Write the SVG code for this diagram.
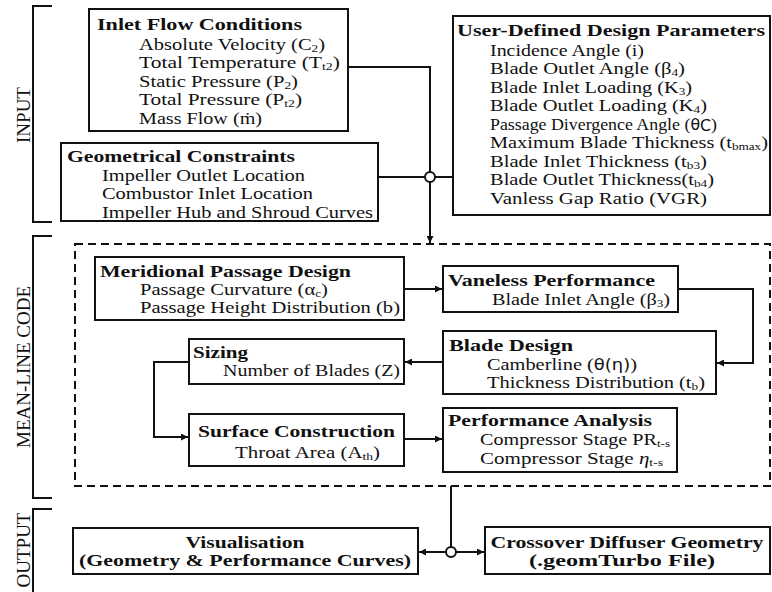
<svg xmlns="http://www.w3.org/2000/svg" width="772" height="592" viewBox="0 0 772 592">
<style>
text{font-family:"Liberation Serif","Times New Roman",serif;font-size:17px;fill:#111}
.t{font-weight:bold;font-size:17px}
.b{fill:#fff;stroke:#111;stroke-width:2}
.c{fill:none;stroke:#111;stroke-width:2}
.s{font-size:11px}
.sans{font-family:"DejaVu Sans",sans-serif;font-size:15px}
.mid{text-anchor:middle}
.lab{font-size:19px}
</style>
<defs>
<marker id="ah" viewBox="0 0 10 10" refX="10" refY="5" markerWidth="9" markerHeight="7" markerUnits="userSpaceOnUse" orient="auto">
<path d="M0,0 L10,5 L0,10 z" fill="#111"/>
</marker>
</defs>
<rect width="772" height="592" fill="#fff"/>

<g id="brackets">
<path class="c" d="M52,6 H33 V222 H52"/>
<path class="c" d="M52,236 H33 V498 H52"/>
<path class="c" d="M52,509 H33 V592"/>
</g>
<g id="section-labels">
<text class="lab mid" transform="translate(30,115) rotate(-90)">INPUT</text>
<text class="lab mid" transform="translate(30,367) rotate(-90)">MEAN-LINE CODE</text>
<text class="lab mid" transform="translate(30,550) rotate(-90)">OUTPUT</text>
</g>

<rect id="meanline-frame" x="75" y="244" width="695" height="242" fill="none" stroke="#111" stroke-width="2" stroke-dasharray="8,5"/>

<g id="connectors">
<path class="c" d="M348,67 H430 V172"/>
<path class="c" d="M378,177 H425"/>
<path class="c" d="M453,177 H435"/>
<path class="c" d="M430,182 V243" marker-end="url(#ah)"/>
<circle cx="430" cy="177" r="5" class="b"/>
<path class="c" d="M404,289 H442" marker-end="url(#ah)"/>
<path class="c" d="M678,289 H753 V363 H717" marker-end="url(#ah)"/>
<path class="c" d="M443,362 H405" marker-end="url(#ah)"/>
<path class="c" d="M189,362 H154 V437 H188" marker-end="url(#ah)"/>
<path class="c" d="M404,439 H442" marker-end="url(#ah)"/>
<path class="c" d="M451,486 V547"/>
<path class="c" d="M446,552 H419" marker-end="url(#ah)"/>
<path class="c" d="M456,552 H484" marker-end="url(#ah)"/>
<circle cx="451" cy="552" r="5" class="b"/>
</g>

<g id="inlet-flow">
<rect class="b" x="89" y="9" width="259" height="122"/>
<text class="t" x="97" y="29.5" textLength="205" lengthAdjust="spacingAndGlyphs">Inlet Flow Conditions</text>
<text x="139" y="49.5" textLength="186" lengthAdjust="spacingAndGlyphs">Absolute Velocity (C<tspan class="s" dy="2">2</tspan><tspan dy="-2">)</tspan></text>
<text x="139" y="68" textLength="201" lengthAdjust="spacingAndGlyphs">Total Temperature (T<tspan class="s" dy="2">t2</tspan><tspan dy="-2">)</tspan></text>
<text x="139" y="86.5" textLength="159" lengthAdjust="spacingAndGlyphs">Static Pressure (P<tspan class="s" dy="2">2</tspan><tspan dy="-2">)</tspan></text>
<text x="139" y="105" textLength="163" lengthAdjust="spacingAndGlyphs">Total Pressure (P<tspan class="s" dy="2">t2</tspan><tspan dy="-2">)</tspan></text>
<text x="139" y="123.5" textLength="123" lengthAdjust="spacingAndGlyphs">Mass Flow (ṁ)</text>
</g>

<g id="geometrical-constraints">
<rect class="b" x="61" y="143" width="317" height="78"/>
<text class="t" x="67" y="162" textLength="228" lengthAdjust="spacingAndGlyphs">Geometrical Constraints</text>
<text x="102" y="180.5" textLength="203" lengthAdjust="spacingAndGlyphs">Impeller Outlet Location</text>
<text x="102" y="199" textLength="211" lengthAdjust="spacingAndGlyphs">Combustor Inlet Location</text>
<text x="102" y="217.5" textLength="271" lengthAdjust="spacingAndGlyphs">Impeller Hub and Shroud Curves</text>
</g>

<g id="user-defined">
<rect class="b" x="453" y="16" width="317" height="199"/>
<text class="t" x="457" y="36" textLength="308" lengthAdjust="spacingAndGlyphs">User-Defined Design Parameters</text>
<text x="490" y="55.5" textLength="154" lengthAdjust="spacingAndGlyphs">Incidence Angle (i)</text>
<text x="490" y="74" textLength="195" lengthAdjust="spacingAndGlyphs">Blade Outlet Angle (β<tspan class="s" dy="2">4</tspan><tspan dy="-2">)</tspan></text>
<text x="490" y="92.5" textLength="202" lengthAdjust="spacingAndGlyphs">Blade Inlet Loading (K<tspan class="s" dy="2">3</tspan><tspan dy="-2">)</tspan></text>
<text x="490" y="111" textLength="217" lengthAdjust="spacingAndGlyphs">Blade Outlet Loading (K<tspan class="s" dy="2">4</tspan><tspan dy="-2">)</tspan></text>
<text x="490" y="129.5" textLength="227" lengthAdjust="spacingAndGlyphs">Passage Divergence Angle (<tspan class="sans">θ</tspan><tspan class="sans" font-size="12" dy="1">C</tspan><tspan dy="-1">)</tspan></text>
<text x="490" y="148" textLength="278" lengthAdjust="spacingAndGlyphs">Maximum Blade Thickness (t<tspan class="s" dy="2">bmax</tspan><tspan dy="-2">)</tspan></text>
<text x="490" y="166.5" textLength="217" lengthAdjust="spacingAndGlyphs">Blade Inlet Thickness (t<tspan class="s" dy="2">b3</tspan><tspan dy="-2">)</tspan></text>
<text x="490" y="185" textLength="224" lengthAdjust="spacingAndGlyphs">Blade Outlet Thickness(t<tspan class="s" dy="2">b4</tspan><tspan dy="-2">)</tspan></text>
<text x="490" y="203.5" textLength="217" lengthAdjust="spacingAndGlyphs">Vanless Gap Ratio (VGR)</text>
</g>

<g id="meridional">
<rect class="b" x="95" y="257" width="309" height="63"/>
<text class="t" x="100" y="276.5" textLength="251" lengthAdjust="spacingAndGlyphs">Meridional Passage Design</text>
<text x="140" y="294.5" textLength="188" lengthAdjust="spacingAndGlyphs">Passage Curvature (α<tspan class="s" dy="2">c</tspan><tspan dy="-2">)</tspan></text>
<text x="140" y="313" textLength="260" lengthAdjust="spacingAndGlyphs">Passage Height Distribution (b)</text>
</g>

<g id="vaneless">
<rect class="b" x="443" y="266" width="235" height="46"/>
<text class="t" x="448" y="285.5" textLength="207" lengthAdjust="spacingAndGlyphs">Vaneless Performance</text>
<text x="492" y="304.5" textLength="178" lengthAdjust="spacingAndGlyphs">Blade Inlet Angle (β<tspan class="s" dy="2">3</tspan><tspan dy="-2">)</tspan></text>
</g>

<g id="blade-design">
<rect class="b" x="443" y="331" width="273" height="63"/>
<text class="t" x="449" y="351" textLength="124" lengthAdjust="spacingAndGlyphs">Blade Design</text>
<text x="487" y="369.5" textLength="150" lengthAdjust="spacingAndGlyphs">Camberline (<tspan class="sans">θ(η)</tspan>)</text>
<text x="487" y="388" textLength="218" lengthAdjust="spacingAndGlyphs">Thickness Distribution (t<tspan class="s" dy="2">b</tspan><tspan dy="-2">)</tspan></text>
</g>

<g id="sizing">
<rect class="b" x="189" y="339" width="215" height="45"/>
<text class="t" x="193" y="357.5" textLength="55" lengthAdjust="spacingAndGlyphs">Sizing</text>
<text x="223" y="376" textLength="177" lengthAdjust="spacingAndGlyphs">Number of Blades (Z)</text>
</g>

<g id="surface-construction">
<rect class="b" x="189" y="414" width="215" height="52"/>
<text class="t" x="198" y="436.5" textLength="197" lengthAdjust="spacingAndGlyphs">Surface Construction</text>
<text x="235" y="457.5" textLength="145" lengthAdjust="spacingAndGlyphs">Throat Area (A<tspan class="s" dy="2">th</tspan><tspan dy="-2">)</tspan></text>
</g>

<g id="performance-analysis">
<rect class="b" x="443" y="408" width="234" height="64"/>
<text class="t" x="448" y="425.5" textLength="204" lengthAdjust="spacingAndGlyphs">Performance Analysis</text>
<text x="480" y="445" textLength="190" lengthAdjust="spacingAndGlyphs">Compressor Stage PR<tspan class="s" dy="2">t-s</tspan></text>
<text x="480" y="463.5" textLength="183" lengthAdjust="spacingAndGlyphs">Compressor Stage <tspan font-style="italic">η</tspan><tspan class="s" dy="2">t-s</tspan></text>
</g>

<g id="visualisation">
<rect class="b" x="73" y="528" width="345" height="46"/>
<text class="t mid" x="245" y="547.5" textLength="119" lengthAdjust="spacingAndGlyphs">Visualisation</text>
<text class="t mid" x="245" y="566" textLength="332" lengthAdjust="spacingAndGlyphs">(Geometry &amp; Performance Curves)</text>
</g>

<g id="crossover-geometry">
<rect class="b" x="485" y="527" width="285" height="47"/>
<text class="t mid" x="627" y="547.5" textLength="273" lengthAdjust="spacingAndGlyphs">Crossover Diffuser Geometry</text>
<text class="t mid" x="622" y="566" textLength="186" lengthAdjust="spacingAndGlyphs">(.geomTurbo File)</text>
</g>
</svg>
